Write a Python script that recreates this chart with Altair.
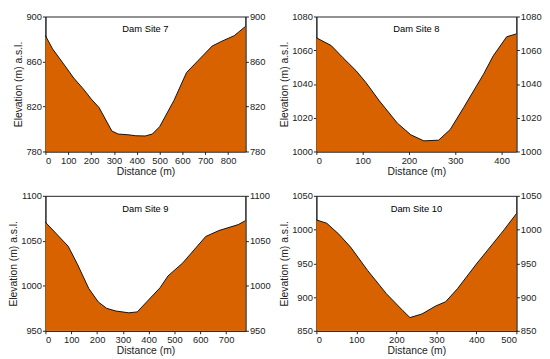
import altair as alt
import pandas as pd

ORANGE = "#D96200"
FONT = "Liberation Sans"

# Dam Site 7
site7_dist = [0, 31, 89, 124, 166, 200, 235, 291, 319, 361, 396, 437, 468, 500, 563, 618, 667, 730, 772, 827, 876]
site7_elev = [883, 871.3, 855.2, 845.3, 835.6, 826.8, 819, 798.2, 795.5, 794.9, 794, 793.8, 795.5, 802, 825.4, 850.2, 860.5, 873.7, 878, 883, 891.2]
site7_xticks = [0, 100, 200, 300, 400, 500, 600, 700, 800]
site7_yticks = [780, 820, 860, 900]

# Dam Site 8
site8_dist = [0, 32, 57, 86, 107, 136, 175, 204, 232, 264, 289, 318, 361, 382, 411, 432]
site8_elev = [1067.4, 1062.8, 1055.7, 1047.8, 1040.9, 1030, 1016.8, 1009.9, 1006.3, 1006.7, 1013, 1026, 1045.8, 1056.7, 1068, 1069.7]
site8_xticks = [0, 100, 200, 300, 400]
site8_yticks = [1000, 1020, 1040, 1060, 1080]

# Dam Site 9
site9_dist = [0, 88, 123, 168, 205, 237, 273, 323, 356, 393, 444, 475, 532, 621, 672, 747, 775]
site9_elev = [1070.6, 1044, 1024.6, 997, 982, 975, 972, 970, 971, 982.4, 997.8, 1011, 1025.4, 1054.8, 1061.4, 1068, 1072.4]
site9_xticks = [0, 100, 200, 300, 400, 500, 600, 700]
site9_yticks = [950, 1000, 1050, 1100]

# Dam Site 10
site10_dist = [0, 26, 56, 86, 128, 175, 216, 234, 264, 298, 323, 353, 400, 467, 500]
site10_elev = [1014.3, 1009.4, 993.3, 973.7, 939.5, 905, 880, 869.6, 875, 886.7, 893, 912.6, 949, 998, 1023.6]
site10_xticks = [0, 100, 200, 300, 400, 500]
site10_yticks = [850, 900, 950, 1000, 1050]

W = 203
H = 137


def panel(title, dist, elev, xticks, yticks):
    df = pd.DataFrame({"d": dist, "e": elev})
    xmax = max(dist)
    x = alt.X("d:Q", scale=alt.Scale(domain=[0, xmax], nice=False, zero=False),
              axis=alt.Axis(values=xticks, title="Distance (m)", format="d"))
    yscale = alt.Scale(domain=[yticks[0], yticks[-1]], nice=False, zero=False)
    area = alt.Chart(df).mark_area(color=ORANGE, opacity=1).encode(
        x=x,
        y=alt.Y("e:Q", scale=yscale,
                axis=alt.Axis(values=yticks, title="Elevation (m) a.s.l.", orient="left", format="d")),
        y2=alt.datum(yticks[0]),
    )
    line = alt.Chart(df).mark_line(color="black", strokeWidth=0.9).encode(
        x=x,
        y=alt.Y("e:Q", scale=yscale,
                axis=alt.Axis(values=yticks, title=None, orient="right", format="d")),
    )
    label = alt.Chart(pd.DataFrame({"t": [title]})).mark_text(
        font=FONT, fontSize=9.5, color="black", baseline="middle", align="center"
    ).encode(text="t:N", x=alt.value(W / 2), y=alt.value(13))
    return alt.layer(area, line, label).resolve_axis(y="independent").properties(width=W, height=H)


p7 = panel("Dam Site 7", site7_dist, site7_elev, site7_xticks, site7_yticks)
p8 = panel("Dam Site 8", site8_dist, site8_elev, site8_xticks, site8_yticks)
p9 = panel("Dam Site 9", site9_dist, site9_elev, site9_xticks, site9_yticks)
p10 = panel("Dam Site 10", site10_dist, site10_elev, site10_xticks, site10_yticks)

chart = alt.concat(p7, p8, p9, p10, columns=2, spacing={"row": 12, "column": 8}).properties(
    padding={"left": 0, "top": 0, "right": 0, "bottom": 0}
).configure_axis(
    labelFont=FONT, titleFont=FONT, labelFontSize=9.5, titleFontSize=10.5,
    titleFontWeight="normal", labelColor="#222", titleColor="#222",
    domainColor="#222", tickColor="#222", tickSize=3, grid=False,
    titlePadding=2, labelPadding=1,
).configure_view(stroke="#222", strokeWidth=1)

chart.save("out.html", embed_options={"renderer": "svg", "actions": False})
